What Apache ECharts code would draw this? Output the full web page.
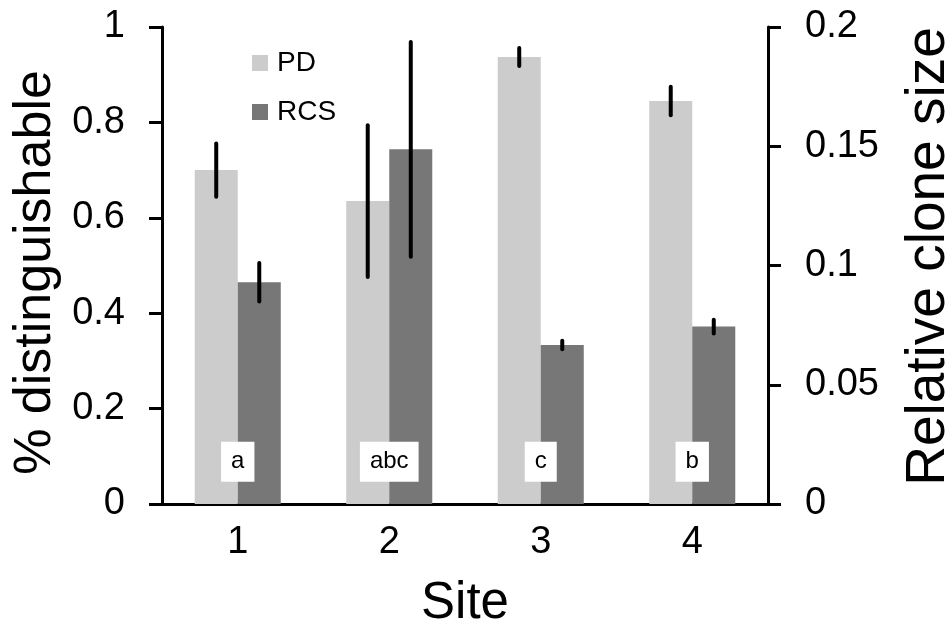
<!DOCTYPE html>
<html><head><meta charset="utf-8">
<script src="https://cdn.jsdelivr.net/npm/echarts@6/dist/echarts.min.js"></script>
<style>html,body{margin:0;padding:0;background:#fff}#c{width:947px;height:626px}</style>
</head><body><div id="c"></div>
<script>
const sites = ['1', '2', '3', '4'];
const pdValues = [0.70, 0.635, 0.937, 0.845];
const pdErrors = [0.056, 0.159, 0.019, 0.030];
const rcsValues = [0.093, 0.1487, 0.0667, 0.0744];
const rcsErrors = [0.0081, 0.045, 0.0018, 0.0029];
const letters = ['a', 'abc', 'c', 'b'];
const letterLevel = 0.0886;

const FONT = 'Liberation Sans, Arial, sans-serif';
const BAR_FRAC = 0.284;

const pdErrData = pdValues.map((v, i) => [i, v - pdErrors[i], v + pdErrors[i]]);
const rcsErrData = rcsValues.map((v, i) => [i, v - rcsErrors[i], v + rcsErrors[i]]);
const letterData = letters.map((t, i) => [i, letterLevel]);

function errItem(sign) {
  return function (params, api) {
    const x = api.value(0);
    const p1 = api.coord([x, api.value(1)]);
    const p2 = api.coord([x, api.value(2)]);
    const bw = api.size([1, 0])[0];
    const dx = sign * bw * BAR_FRAC / 2;
    return {
      type: 'line',
      shape: { x1: p1[0] + dx, y1: p1[1], x2: p2[0] + dx, y2: p2[1] },
      style: { stroke: '#000', lineWidth: 4, lineCap: 'round' }
    };
  };
}

const axisLineStyle = { color: '#000', width: 3 };

const chart = echarts.init(document.getElementById('c'));
chart.setOption({
  animation: false,
  backgroundColor: '#fff',
  textStyle: { fontFamily: FONT },
  grid: { left: 162, right: 179, top: 27, bottom: 122, containLabel: false, outerBoundsMode: 'none' },
  legend: {
    data: ['PD', 'RCS'],
    orient: 'vertical',
    left: 247, top: 44,
    itemWidth: 16, itemHeight: 16,
    itemGap: 21,
    icon: 'rect',
    textStyle: { fontSize: 28, color: '#000', fontFamily: FONT, padding: [0, 0, 0, 4] }
  },
  xAxis: [{
    type: 'category', data: sites, position: 'bottom',
    name: 'Site', nameLocation: 'middle', nameGap: 74,
    nameTextStyle: { fontSize: 51, color: '#000', fontFamily: FONT },
    axisLine: { show: true, lineStyle: axisLineStyle },
    axisTick: { show: false },
    axisLabel: { fontSize: 38, color: '#000', margin: 20, fontFamily: FONT },
    splitLine: { show: false }
  }, {
    type: 'category', data: sites, position: 'top',
    axisLine: { show: true, lineStyle: axisLineStyle },
    axisTick: { show: false }, axisLabel: { show: false }, splitLine: { show: false }
  }],
  yAxis: [{
    type: 'value', min: 0, max: 1, interval: 0.2, position: 'left',
    name: '% distinguishable', nameLocation: 'middle', nameGap: 97,
    nameTextStyle: { fontSize: 52, color: '#000', fontFamily: FONT, padding: [0, 14, 0, 0] },
    axisLine: { show: true, lineStyle: axisLineStyle },
    axisTick: { show: true, length: 13, lineStyle: axisLineStyle },
    axisLabel: { fontSize: 38, color: '#000', margin: 37, fontFamily: FONT },
    splitLine: { show: false }
  }, {
    type: 'value', min: 0, max: 0.2, interval: 0.05, position: 'right',
    name: 'Relative clone size', nameLocation: 'middle', nameGap: 133,
    nameTextStyle: { fontSize: 55, color: '#000', fontFamily: FONT, padding: [0, 0, 0, 18] },
    axisLine: { show: true, lineStyle: axisLineStyle },
    axisTick: { show: true, length: 13, lineStyle: axisLineStyle },
    axisLabel: { fontSize: 38, color: '#000', margin: 37, fontFamily: FONT },
    splitLine: { show: false }
  }],
  series: [{
    name: 'PD', type: 'bar', xAxisIndex: 0, yAxisIndex: 0,
    data: pdValues, barWidth: (BAR_FRAC * 100) + '%', barGap: '0%',
    itemStyle: { color: '#cccccc' }
  }, {
    name: 'RCS', type: 'bar', xAxisIndex: 0, yAxisIndex: 1,
    data: rcsValues, barWidth: (BAR_FRAC * 100) + '%', barGap: '0%',
    itemStyle: { color: '#777777' }
  }, {
    type: 'custom', xAxisIndex: 0, yAxisIndex: 0, z: 5,
    data: pdErrData, renderItem: errItem(-1), encode: { x: 0, y: [1, 2] }
  }, {
    type: 'custom', xAxisIndex: 0, yAxisIndex: 1, z: 5,
    data: rcsErrData, renderItem: errItem(1), encode: { x: 0, y: [1, 2] }
  }, {
    type: 'custom', xAxisIndex: 0, yAxisIndex: 0, z: 6,
    data: letterData, encode: { x: 0, y: 1 },
    renderItem: function (params, api) {
      const p = api.coord([api.value(0), api.value(1)]);
      return {
        type: 'text', x: p[0], y: p[1],
        style: {
          text: letters[params.dataIndex], fill: '#000',
          fontSize: 24, fontFamily: FONT,
          align: 'center', verticalAlign: 'middle',
          backgroundColor: '#fff', padding: [8, 10]
        }
      };
    }
  }]
});
</script>
</body></html>
